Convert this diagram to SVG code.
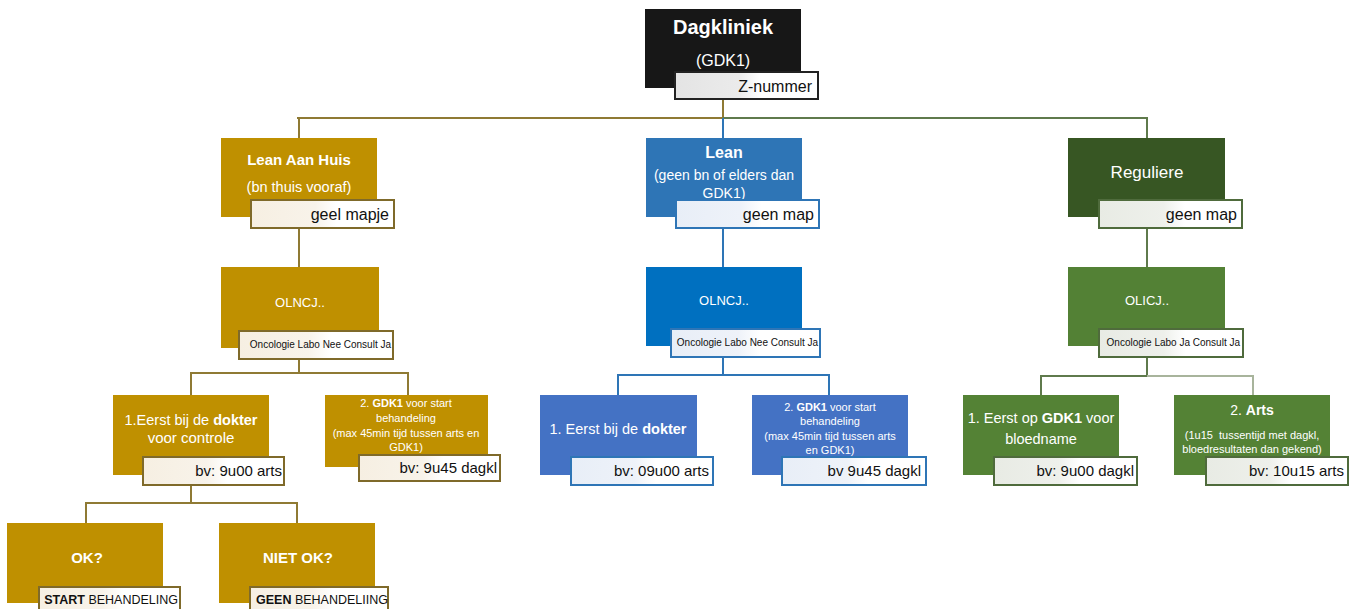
<svg xmlns="http://www.w3.org/2000/svg" width="1353" height="609" viewBox="0 0 1353 609">
<style>
text{font-family:"Liberation Sans",Arial,sans-serif;}
.w{fill:#ffffff;text-anchor:middle;}
.k{fill:#111111;text-anchor:end;}
.b{font-weight:bold;}
.cg{fill:none;stroke:#8f7a34;stroke-width:2;}
.cb{fill:none;stroke:#2e75b6;stroke-width:2;}
.cn{fill:none;stroke:#5f7a4c;stroke-width:2;}
.lg{stroke:#7f6a2a;stroke-width:2;fill:url(#gg);}
.lb{stroke:#2e75b6;stroke-width:2;fill:url(#gb);}
.ln{stroke:#4f6b3c;stroke-width:2;fill:url(#gn);}
.lk{stroke:#222222;stroke-width:2;fill:url(#gk);}
</style>
<defs>
<linearGradient id="gg" x1="0" y1="0" x2="1" y2="0"><stop offset="0" stop-color="#f6efe2"/><stop offset="0.45" stop-color="#f8f3ea"/><stop offset="0.6" stop-color="#ffffff"/></linearGradient>
<linearGradient id="gb" x1="0" y1="0" x2="1" y2="0"><stop offset="0" stop-color="#e8eef7"/><stop offset="0.45" stop-color="#eef2f9"/><stop offset="0.6" stop-color="#ffffff"/></linearGradient>
<linearGradient id="gn" x1="0" y1="0" x2="1" y2="0"><stop offset="0" stop-color="#e8ebe4"/><stop offset="0.45" stop-color="#eef0eb"/><stop offset="0.6" stop-color="#ffffff"/></linearGradient>
<linearGradient id="gk" x1="0" y1="0" x2="1" y2="0"><stop offset="0" stop-color="#e4e4e4"/><stop offset="0.45" stop-color="#ebebeb"/><stop offset="0.6" stop-color="#ffffff"/></linearGradient>
</defs>
<rect width="1353" height="609" fill="#ffffff"/>
<g id="connectors">
<path class="cg" d="M723 99 V118 M297 118 H723 M299 118 V138 M299 228 V267"/>
<path class="cn" d="M723 118 H1147 V138 M1147 228 V267"/>
<path class="cb" d="M723 118 V138 M723 228 V267"/>
<path class="cg" d="M299 359 V373 H191 V395 M299 373 H408 V395"/>
<path class="cb" d="M723 357 V375 H618 V395 M723 375 H829 V395"/>
<path class="cn" d="M1147 357 V376 H1041 V395"/>
<path fill="none" stroke="#a8b49c" stroke-width="2" d="M1147 376 H1253 V395"/>
<path class="cg" d="M191 485 V503 H86 V523 M191 503 H297 V523"/>
</g>
<g id="n-dagkliniek">
<rect x="645" y="9" width="156" height="79" fill="#171717"/>
<text class="w b" x="723" y="34" font-size="20">Dagkliniek</text>
<text class="w" x="723" y="66" font-size="16">(GDK1)</text>
<rect class="lk" x="675" y="72" width="143" height="27"/>
<text class="k" x="812" y="92" font-size="16">Z-nummer</text>
</g>
<g id="n-leanaanhuis">
<rect x="221" y="138" width="156" height="79" fill="#bf9000"/>
<text class="w b" x="299" y="165" font-size="15">Lean Aan Huis</text>
<text class="w" x="299" y="192" font-size="14.5">(bn thuis vooraf)</text>
<rect class="lg" x="251" y="200" width="143" height="28"/>
<text class="k" x="389" y="220" font-size="16">geel mapje</text>
</g>
<g id="n-lean">
<rect x="646" y="138" width="156" height="79" fill="#2e75b6"/>
<text class="w b" x="724" y="158" font-size="16">Lean</text>
<text class="w" x="724" y="180" font-size="14">(geen bn of elders dan</text>
<text class="w" x="724" y="198" font-size="14">GDK1)</text>
<rect class="lb" x="676" y="200" width="143" height="28"/>
<text class="k" x="814" y="220" font-size="16">geen map</text>
</g>
<g id="n-reguliere">
<rect x="1068" y="138" width="157" height="79" fill="#375623"/>
<text class="w" x="1147" y="178" font-size="17">Reguliere</text>
<rect class="ln" x="1099" y="200" width="143" height="28"/>
<text class="k" x="1237" y="220" font-size="16">geen map</text>
</g>
<g id="n-olncj-gold">
<rect x="221" y="267" width="158" height="81" fill="#bf9000"/>
<text class="w" x="300" y="307" font-size="13">OLNCJ..</text>
<rect class="lg" x="239" y="331" width="154" height="28"/>
<text class="k" x="391" y="348" font-size="10">Oncologie Labo Nee Consult Ja</text>
</g>
<g id="n-olncj-blue">
<rect x="646" y="267" width="156" height="79" fill="#0070c0"/>
<text class="w" x="724" y="305" font-size="13">OLNCJ..</text>
<rect class="lb" x="671" y="329" width="149" height="28"/>
<text class="k" x="818" y="346" font-size="10">Oncologie Labo Nee Consult Ja</text>
</g>
<g id="n-olicj">
<rect x="1068" y="267" width="157" height="79" fill="#538135"/>
<text class="w" x="1147" y="305" font-size="13">OLICJ..</text>
<rect class="ln" x="1099" y="329" width="144" height="28"/>
<text class="k" x="1240" y="346" font-size="10">Oncologie Labo Ja Consult Ja</text>
</g>
<g id="n-gold-dokter">
<rect x="113" y="395" width="156" height="80" fill="#bf9000"/>
<text class="w" x="191" y="425" font-size="14.5">1.Eerst bij de <tspan class="b">dokter</tspan></text>
<text class="w" x="191" y="443" font-size="15">voor controle</text>
<rect class="lg" x="143" y="457" width="141" height="28"/>
<text class="k" x="282" y="476" font-size="15">bv: 9u00 arts</text>
</g>
<g id="n-gold-gdk1">
<rect x="325" y="395" width="163" height="72" fill="#bf9000"/>
<text class="w" x="406" y="407" font-size="11">2. <tspan class="b">GDK1</tspan> voor start</text>
<text class="w" x="406" y="422" font-size="11">behandeling</text>
<text class="w" x="406" y="437" font-size="11">(max 45min tijd tussen arts en</text>
<text class="w" x="406" y="451" font-size="11">GDK1)</text>
<rect class="lg" x="359" y="455" width="141" height="26"/>
<text class="k" x="497" y="473" font-size="15">bv: 9u45 dagkl</text>
</g>
<g id="n-blue-dokter">
<rect x="540" y="395" width="157" height="80" fill="#4472c4"/>
<text class="w" x="618" y="434" font-size="14.5">1. Eerst bij de <tspan class="b">dokter</tspan></text>
<rect class="lb" x="571" y="457" width="142" height="28"/>
<text class="k" x="709" y="476" font-size="15">bv: 09u00 arts</text>
</g>
<g id="n-blue-gdk1">
<rect x="752" y="395" width="156" height="80" fill="#4472c4"/>
<text class="w" x="830" y="411" font-size="11">2. <tspan class="b">GDK1</tspan> voor start</text>
<text class="w" x="830" y="425" font-size="11">behandeling</text>
<text class="w" x="830" y="440" font-size="11">(max 45min tijd tussen arts</text>
<text class="w" x="830" y="454" font-size="11">en GDK1)</text>
<rect class="lb" x="782" y="457" width="144" height="28"/>
<text class="k" x="921" y="476" font-size="15">bv 9u45 dagkl</text>
</g>
<g id="n-green-gdk1">
<rect x="963" y="395" width="156" height="80" fill="#548235"/>
<text class="w" x="1041" y="423" font-size="14.5">1. Eerst op <tspan class="b">GDK1</tspan> voor</text>
<text class="w" x="1041" y="444" font-size="14.5">bloedname</text>
<rect class="ln" x="994" y="457" width="143" height="28"/>
<text class="k" x="1134" y="476" font-size="15">bv: 9u00 dagkl</text>
</g>
<g id="n-green-arts">
<rect x="1174" y="395" width="156" height="80" fill="#548235"/>
<text class="w" x="1252" y="415" font-size="14">2. <tspan class="b">Arts</tspan></text>
<text class="w" x="1252" y="439" font-size="11">(1u15&#160; tussentijd met dagkl,</text>
<text class="w" x="1252" y="453" font-size="11">bloedresultaten dan gekend)</text>
<rect class="ln" x="1206" y="457" width="142" height="28"/>
<text class="k" x="1344" y="476" font-size="15">bv: 10u15 arts</text>
</g>
<g id="n-ok">
<rect x="7" y="523" width="156" height="80" fill="#bf9000"/>
<text class="w b" x="87" y="563" font-size="15">OK?</text>
<rect class="lg" x="39" y="587" width="141" height="28"/>
<text class="k" x="178" y="604" font-size="12.5"><tspan class="b">START</tspan> BEHANDELING</text>
</g>
<g id="n-nietok">
<rect x="219" y="523" width="156" height="80" fill="#bf9000"/>
<text class="w b" x="298" y="563" font-size="15">NIET OK?</text>
<rect class="lg" x="250" y="587" width="138" height="28"/>
<text class="k" x="388" y="604" font-size="12.5"><tspan class="b">GEEN</tspan> BEHANDELIING</text>
</g>
</svg>
